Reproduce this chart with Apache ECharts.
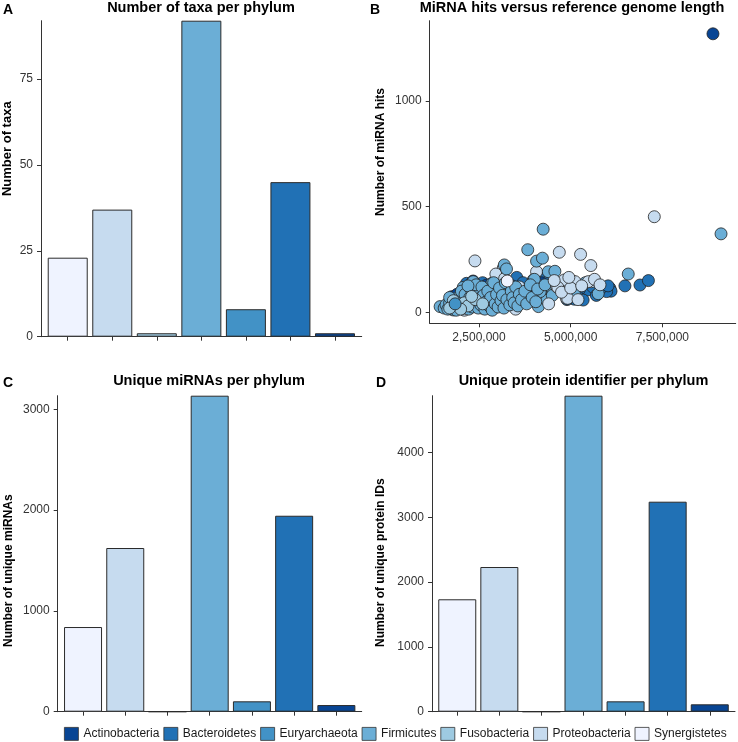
<!DOCTYPE html>
<html>
<head>
<meta charset="utf-8">
<script src="https://cdn.jsdelivr.net/npm/echarts@6/dist/echarts.min.js"></script>
<style>
html,body{margin:0;padding:0;background:#fff}
#main{width:738px;height:742px}
</style>
</head>
<body>
<div id="main"></div>
<script>
// phyla, alphabetical (x order of the bar panels)
var phyla = ['Actinobacteria', 'Bacteroidetes', 'Euryarchaeota', 'Firmicutes', 'Fusobacteria', 'Proteobacteria', 'Synergistetes'];
var legendColors = ['#084594', '#2171B5', '#4292C6', '#6BAED6', '#9ECAE1', '#C6DBEF', '#EFF3FF'];
var barColors = ['#EFF3FF', '#C6DBEF', '#9ECAE1', '#6BAED6', '#4292C6', '#2171B5', '#084594'];

// bar panels
var taxaCount = [23, 37, 1, 92, 8, 45, 1];
var uniqueMirnas = [840, 1624, 0, 3135, 103, 1944, 66];
var uniqueProteins = [1735, 2233, 0, 4877, 160, 3241, 114];
var taxaTicks = [0, 25, 50, 75];
var mirnaTicks = [0, 1000, 2000, 3000];
var proteinTicks = [0, 1000, 2000, 3000, 4000];

// scatter: [genome length, miRNA hits]
var genomeTicks = [2500000, 5000000, 7500000];
var hitTicks = [0, 500, 1000];

var actinoPts = [[8880000,1317],[1760000,74],[1710000,58],[2340000,148],[2570000,106],[2710000,129],[2200000,95],[2050000,62],[1950000,40],[2450000,80],[2600000,60],[2300000,35],[2900000,120],[3100000,100],[3840000,106],[3300000,130],[2150000,20],[1900000,85],[2500000,45],[2750000,90],[3500000,75],[2250000,130],[4200000,140]];

var bacteroPts = [[6480000,125],[6890000,129],[7120000,150],[6070000,114],[6100000,100],[5980000,98],[5800000,109],[5480000,106],[5240000,109],[5160000,82],[5340000,58],[5100000,62],[4250000,165],[3530000,165],[3620000,114],[3300000,90],[3890000,98],[4480000,98],[2160000,137],[4000000,120],[4600000,100],[5000000,95],[5600000,120],[3200000,70],[2800000,50],[4300000,75],[6020000,125],[5200000,130],[3700000,140],[2600000,140],[4900000,60],[5700000,80],[4400000,150],[3000000,160],[2400000,60],[3400000,125],[5050000,118]];

var euryPts = [[1850000,40]];

var firmiPts = [[9100000,371],[4250000,393],[3830000,296],[4070000,242],[4230000,256],[3190000,224],[6570000,181],[5750000,88],[4390000,192],[4570000,194],[3980000,153],[4850000,145],[2340000,145],[2070000,118],[2850000,137],[3030000,66],[3710000,58],[4120000,27],[4350000,58],[1440000,27],[1980000,58],[2160000,30],[1800000,11],[4010000,156],[4390000,125],[4170000,98],
  [1550000,20],[1600000,35],[1650000,15],[1700000,45],[1750000,25],[1820000,60],[1850000,30],[1880000,10],[1920000,50],[1960000,75],[2000000,35],[2020000,100],[2080000,20],[2100000,55],[2120000,85],[2180000,40],[2220000,15],[2250000,70],[2280000,110],[2320000,25],[2360000,50],[2400000,90],[2420000,130],[2480000,20],[2520000,65],[2550000,35],[2580000,120],[2620000,80],[2660000,15],[2700000,50],[2740000,100],[2780000,30],[2820000,70],[2860000,10],[2900000,140],[2940000,40],[2980000,85],[3020000,25],[3060000,115],[3100000,55],[3140000,80],[3180000,20],[3220000,140],[3260000,60],[3340000,35],[3380000,100],[3420000,70],[3460000,45],[3500000,120],[3560000,30],[3600000,85],[3660000,60],[3750000,100],[3800000,40],[3900000,130],[3950000,70],[4050000,50],[4100000,110],[4300000,130],[4500000,80],[4700000,120],[5100000,90],[5400000,140],[3250000,205],[2200000,125],[1700000,70]];

var fusoPts = [[2100000,45],[2200000,30],[1800000,55],[2400000,60],[2000000,15],[2600000,40],[2300000,75],[1700000,20]];

var proteoPts = [[7280000,452],[2390000,243],[4690000,284],[5270000,274],[5550000,221],[3160000,208],[2960000,181],[4070000,192],[4620000,121],[4890000,129],[5070000,145],[5570000,145],[4890000,66],[3890000,77],[4830000,153],[5120000,145],[5480000,145],[5650000,156],[4650000,118],[4920000,66],[2600000,20],[2100000,10],[1900000,30],[2300000,90],[3300000,55],[3600000,120],[4200000,105],[4400000,40],[4750000,95],[5000000,115],[5300000,125],[5800000,130],[3000000,100],[2800000,130],[3500000,15],[4000000,90],[4550000,150],[5200000,60],[3200000,160],[2500000,100],[3700000,80],[4300000,60],[2700000,115],[4950000,165],[2000000,70]];

var synergPts = [[3270000,148]];

var FONT = '"Liberation Sans", Arial, sans-serif';
var axisColor = '#333';
var labelColor = '#333';

var ctx = document.createElement('canvas').getContext('2d');
function leftFor(text, size, cx) {
  ctx.font = 'bold ' + size + 'px ' + FONT;
  return cx - ctx.measureText(text).width / 2;
}
function commas(v) {
  return String(v).replace(/\B(?=(\d{3})+(?!\d))/g, ',');
}
function plain(v) {
  return String(v);
}

var myChart = echarts.init(document.getElementById('main'), null, {renderer: 'canvas'});

function titleItem(text, size, left, top) {
  return {text: text, left: left, top: top, padding: 0,
    textStyle: {fontSize: size, fontWeight: 'bold', color: '#000', fontFamily: FONT}};
}

function barX(idx) {
  return {
    gridIndex: idx, type: 'value', min: -0.6, max: 6.6,
    axisLine: {show: true, onZero: false, lineStyle: {color: axisColor, width: 1}},
    axisTick: {show: true, customValues: [0, 1, 2, 3, 4, 5, 6], length: 4, lineStyle: {color: axisColor}},
    axisLabel: {show: false},
    splitLine: {show: false}
  };
}
function valY(idx, min, max, ticks, name, gap, pad, nameSize) {
  return {
    gridIndex: idx, type: 'value', min: min, max: max,
    axisLine: {show: true, onZero: false, lineStyle: {color: axisColor, width: 1}},
    axisTick: {show: true, customValues: ticks, length: 4, lineStyle: {color: axisColor}},
    axisLabel: {customValues: ticks, margin: 8, fontSize: 12, color: labelColor, fontFamily: FONT, formatter: plain},
    splitLine: {show: false},
    name: name, nameLocation: 'middle', nameGap: gap,
    nameTextStyle: {fontSize: nameSize, fontWeight: 'bold', color: '#000', fontFamily: FONT, padding: pad}
  };
}
function barSeries(idx, vals, width) {
  return {
    type: 'bar', xAxisIndex: idx, yAxisIndex: idx, barWidth: width,
    itemStyle: {borderColor: '#2b2b2b', borderWidth: 1},
    data: vals.map(function(v, i) {
      return {value: [i, v], itemStyle: {color: barColors[i]}};
    })
  };
}
function scatterSeries(name, pts) {
  return {
    type: 'scatter', name: name, xAxisIndex: 1, yAxisIndex: 1,
    symbolSize: 12,
    itemStyle: {color: legendColors[phyla.indexOf(name)], borderColor: '#222', borderWidth: 0.8, opacity: 1},
    data: pts
  };
}

var titleA = 'Number of taxa per phylum',
    titleB = 'MiRNA hits versus reference genome length',
    titleC = 'Unique miRNAs per phylum',
    titleD = 'Unique protein identifier per phylum';

// proteobacteria points sit under firmicutes on the left, over them on the right
var proteoLeft = proteoPts.filter(function(p) { return p[0] < 4400000; });
var proteoRight = proteoPts.filter(function(p) { return p[0] >= 4400000; });

var option = {
  backgroundColor: '#fff',
  animation: false,
  textStyle: {fontFamily: FONT},
  title: [
    titleItem('A', 14, 3, 3),
    titleItem(titleA, 14.5, leftFor(titleA, 14.5, 201), 0),
    titleItem('B', 14, 370, 3),
    titleItem(titleB, 14.5, leftFor(titleB, 14.5, 572), 0),
    titleItem('C', 14, 3, 376),
    titleItem(titleC, 14.5, leftFor(titleC, 14.5, 209), 373),
    titleItem('D', 14, 376, 376),
    titleItem(titleD, 14.5, leftFor(titleD, 14.5, 583.5), 373)
  ],
  legend: {
    left: 64, top: 727, orient: 'horizontal', padding: 0,
    icon: 'rect', itemWidth: 14, itemHeight: 13, itemGap: 4,
    itemStyle: {borderColor: '#333', borderWidth: 0.8},
    textStyle: {fontSize: 12, color: '#1a1a1a', fontFamily: FONT},
    data: phyla
  },
  grid: [
    {left: 41, top: 20.7, width: 320.7, height: 316},
    {left: 429.7, top: 20.7, width: 306, height: 302.6},
    {left: 57.7, top: 395.7, width: 304, height: 316},
    {left: 432, top: 395.7, width: 303, height: 316}
  ],
  xAxis: [
    barX(0),
    {
      gridIndex: 1, type: 'value', min: 1156000, max: 9500000,
      axisLine: {show: true, onZero: false, lineStyle: {color: axisColor, width: 1}},
      axisTick: {show: true, customValues: genomeTicks, length: 4, lineStyle: {color: axisColor}},
      axisLabel: {customValues: genomeTicks, margin: 8, fontSize: 12, color: labelColor, fontFamily: FONT, formatter: commas},
      splitLine: {show: false}
    },
    barX(2),
    barX(3)
  ],
  yAxis: [
    valY(0, 0, 92, taxaTicks, 'Number of taxa', 27, [0, 0, 0, 60], 13),
    valY(1, -52, 1379, hitTicks, 'Number of miRNA hits', 43, [0, 0, 0, 40], 12),
    valY(2, 0, 3135, mirnaTicks, 'Number of unique miRNAs', 43.4, [0, 34, 0, 0], 12),
    valY(3, 0, 4877, proteinTicks, 'Number of unique protein IDs', 45.3, [0, 18, 0, 0], 12)
  ],
  series: [
    barSeries(0, taxaCount, 40),
    barSeries(2, uniqueMirnas, 38),
    barSeries(3, uniqueProteins, 38),
    scatterSeries('Bacteroidetes', bacteroPts),
    scatterSeries('Proteobacteria', proteoLeft),
    scatterSeries('Actinobacteria', actinoPts),
    scatterSeries('Firmicutes', firmiPts),
    scatterSeries('Proteobacteria', proteoRight),
    scatterSeries('Fusobacteria', fusoPts),
    scatterSeries('Euryarchaeota', euryPts),
    scatterSeries('Synergistetes', synergPts)
  ]
};
myChart.setOption(option);
</script>
</body>
</html>
